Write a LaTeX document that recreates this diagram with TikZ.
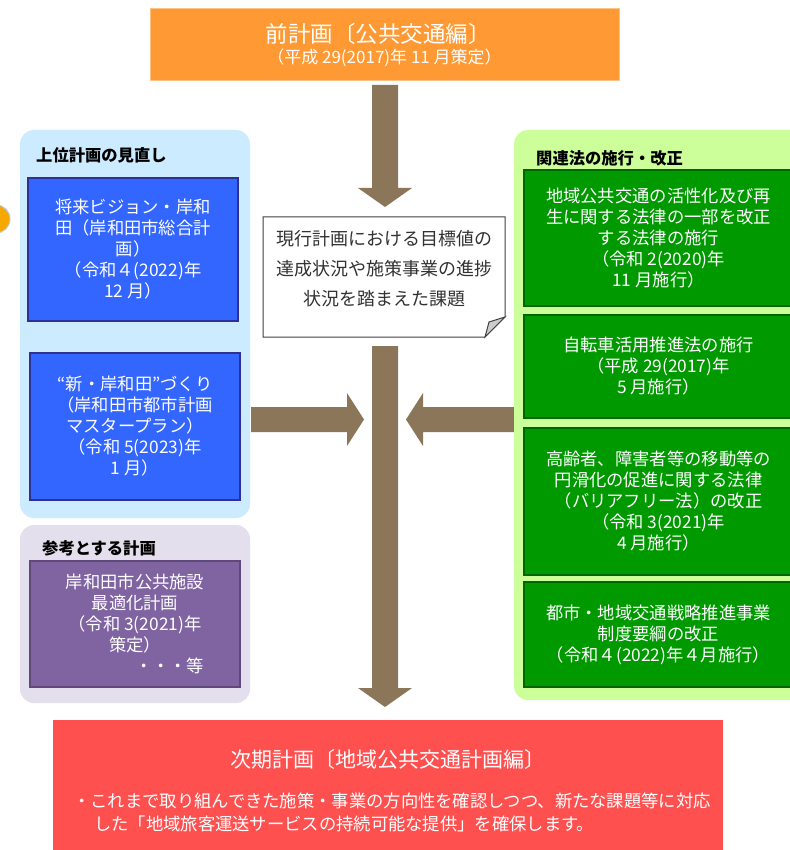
\documentclass[tikz,border=0pt]{standalone}
\usepackage{fontspec}
\setmainfont{Noto Sans CJK JP}
\usetikzlibrary{calc}
\definecolor{topor}{RGB}{255,153,51}
\definecolor{arrowbr}{RGB}{140,118,90}
\definecolor{panelblue}{RGB}{204,235,255}
\definecolor{boxblue}{RGB}{51,102,255}
\definecolor{bluebd}{RGB}{46,49,146}
\definecolor{panellav}{RGB}{228,223,236}
\definecolor{boxpur}{RGB}{128,100,162}
\definecolor{purbd}{RGB}{95,73,122}
\definecolor{panelgreen}{RGB}{204,255,153}
\definecolor{boxgreen}{RGB}{0,153,0}
\definecolor{greenbd}{RGB}{0,102,0}
\definecolor{redbox}{RGB}{255,80,80}
\definecolor{notetext}{RGB}{50,50,50}
\definecolor{circor}{RGB}{245,168,0}
\begin{document}
\begin{tikzpicture}[x=1pt,y=-1pt,
  panel/.style={rounded corners=14pt},
  boxtext/.style={rectangle, align=center, text=white, inner sep=0pt, font=\fontsize{17.3}{21}\selectfont},
  bluebox/.style={boxtext, fill=boxblue, draw=bluebd, line width=2.5pt, minimum width=210pt},
  purbox/.style={boxtext, fill=boxpur, draw=purbd, line width=2pt, minimum width=210pt},
  greenbox/.style={boxtext, fill=boxgreen, draw=greenbd, line width=2.5pt, minimum width=269pt},
  ptitle/.style={anchor=west, inner sep=0pt, font=\fontsize{16.3}{19}\selectfont\bfseries},
  barrow/.style={fill=arrowbr}
]
\useasboundingbox (0,0) rectangle (789,850);
\fill[white] (0,0) rectangle (789,850);

% partial circle at left edge
\node[circle, fill=circor, draw=panelblue!70!gray, line width=1pt, minimum size=28pt, inner sep=0pt] (dot) at (-4,219) {};

% top box
\node[rectangle, fill=topor, draw=topor!60!white, line width=0.6pt, minimum width=469pt, minimum height=72pt] (prev) at (384.5,44) {};
\node[text=white, font=\fontsize{22.5}{26}\selectfont, inner sep=0pt] (prevt) at (378,34) {前計画〔公共交通編〕};
\node[text=white, font=\fontsize{17}{20}\selectfont, inner sep=0pt] (prevs) at (384.5,58) {（平成 29(2017)年 11 月策定）};

% arrows (block)
\coordinate (a1) at (385,85);
\fill[barrow] ($(a1)+(-13,0)$) -- ($(a1)+(13,0)$) -- ($(a1)+(13,103)$) -- ($(a1)+(27,103)$) -- ($(a1)+(0,122)$) -- ($(a1)+(-27,103)$) -- ($(a1)+(-13,103)$) -- cycle;
\coordinate (a2) at (385,346);
\fill[barrow] ($(a2)+(-13,0)$) -- ($(a2)+(13,0)$) -- ($(a2)+(13,342)$) -- ($(a2)+(27,342)$) -- ($(a2)+(0,361)$) -- ($(a2)+(-27,342)$) -- ($(a2)+(-13,342)$) -- cycle;
\coordinate (a3) at (251,419.5);
\fill[barrow] ($(a3)+(0,-12.5)$) -- ($(a3)+(96,-12.5)$) -- ($(a3)+(96,-26.5)$) -- ($(a3)+(113,0)$) -- ($(a3)+(96,26.5)$) -- ($(a3)+(96,12.5)$) -- ($(a3)+(0,12.5)$) -- cycle;
\coordinate (a4) at (520,419.5);
\fill[barrow] ($(a4)+(0,-12.5)$) -- ($(a4)+(-97,-12.5)$) -- ($(a4)+(-97,-26.5)$) -- ($(a4)+(-114,0)$) -- ($(a4)+(-97,26.5)$) -- ($(a4)+(-97,12.5)$) -- ($(a4)+(0,12.5)$) -- cycle;

% note box with folded corner
\draw[fill=white, draw=black!75, line width=1pt] (263,217) -- (505,217) -- (505,317) -- (485,337) -- (263,337) -- cycle;
\draw[fill=black!20, draw=black!75, line width=1pt] (505,317) -- (489,322) -- (485,337) -- cycle;
\node[align=center, text=notetext, inner sep=0pt, font=\fontsize{18}{30}\selectfont] (note) at (384,269) {現行計画における目標値の\\達成状況や施策事業の進捗\\状況を踏まえた課題};

% left blue panel
\fill[panelblue, panel] (20,130) rectangle (250,518);
\node[ptitle] (t1) at (36,155) {上位計画の見直し};
\node[bluebox, minimum height=143pt] (b1) at (133,249.5) {将来ビジョン・岸和\\田（岸和田市総合計\\画）\\（令和４(2022)年\\12 月）};
\node[bluebox, minimum height=147pt] (b2) at (135,426.5) {“新・岸和田”づくり\\（岸和田市都市計画\\マスタープラン）\\（令和 5(2023)年\\1 月）};

% purple panel
\fill[panellav, panel] (20,525) rectangle (250,703);
\node[ptitle] (t2) at (42,548) {参考とする計画};
\node[purbox, minimum height=126pt] (p1) at (135,624) {岸和田市公共施設\\最適化計画\\（令和 3(2021)年\\策定）\\\hspace*{4em}・・・等};

% green panel
\fill[panelgreen, panel] (514,130) rectangle (820,700);
\node[ptitle] (t3) at (536,158) {関連法の施行・改正};
\node[greenbox, minimum height=136pt] (g1) at (658.5,238) {地域公共交通の活性化及び再\\生に関する法律の一部を改正\\する法律の施行\\（令和 2(2020)年\\11 月施行）};
\node[greenbox, minimum height=103pt] (g2) at (658.5,366.5) {自転車活用推進法の施行\\（平成 29(2017)年\\5 月施行）};
\node[greenbox, minimum height=147pt] (g3) at (658.5,501.5) {高齢者、障害者等の移動等の\\円滑化の促進に関する法律\\（バリアフリー法）の改正\\（令和 3(2021)年\\4 月施行）};
\node[greenbox, minimum height=105pt] (g4) at (658.5,634.5) {都市・地域交通戦略推進事業\\制度要綱の改正\\（令和４(2022)年４月施行）};

% bottom red box
\fill[redbox] (53,720) rectangle (723,870);
\node[text=white, inner sep=0pt, font=\fontsize{21}{25}\selectfont] (nextt) at (388,760) {次期計画〔地域公共交通計画編〕};
\node[anchor=west, text=white, inner sep=0pt, font=\fontsize{17.3}{20}\selectfont] (nb1) at (73,801) {・これまで取り組んできた施策・事業の方向性を確認しつつ、新たな課題等に対応};
\node[anchor=west, text=white, inner sep=0pt, font=\fontsize{17.3}{20}\selectfont] (nb2) at (94,824) {した「地域旅客運送サービスの持続可能な提供」を確保します。};
\end{tikzpicture}
\end{document}
